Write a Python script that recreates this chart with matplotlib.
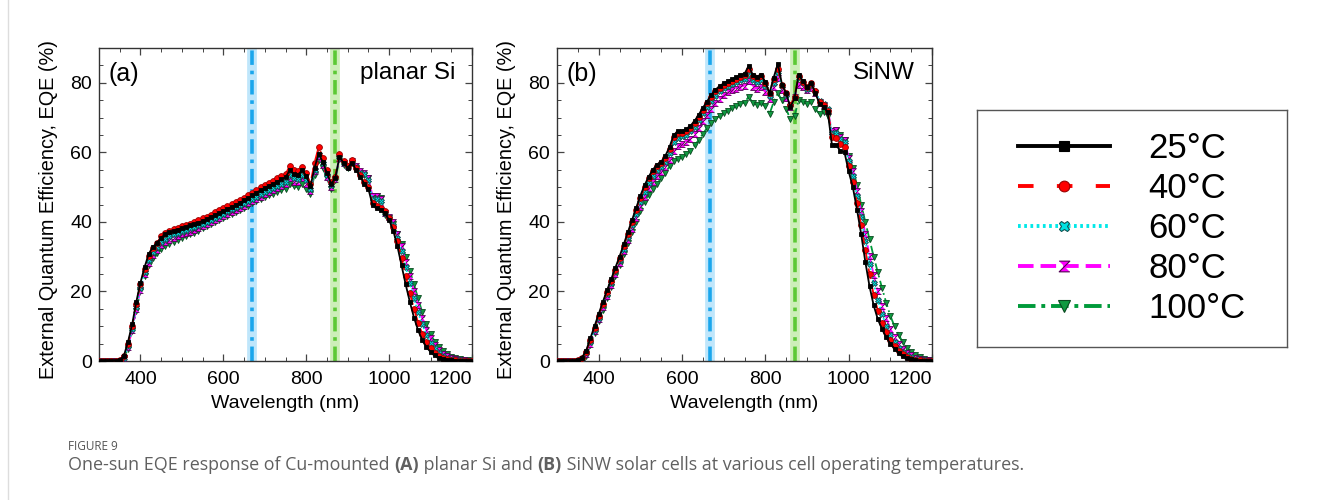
import numpy as np
import matplotlib
matplotlib.use("Agg")
import matplotlib.pyplot as plt
from matplotlib.lines import Line2D
from matplotlib.ticker import MultipleLocator

plt.rcParams['font.family'] = ['Liberation Sans', 'DejaVu Sans']

# wavelength grid (nm), one EQE reading every 10 nm
wl = np.arange(300, 1201, 10)

# (a) planar Si, EQE in %
a25 = [0, 0, 0, 0, 0, 0.3, 1.5, 5.5, 10.5, 17.0,
       22.5, 27.0, 30.8, 32.8, 34.0, 35.5, 36.4, 37.0, 37.4, 37.8,
       38.2, 38.6, 39.0, 39.4, 39.8, 40.3, 40.8, 41.4, 42.0, 42.6,
       43.1, 43.7, 44.3, 44.9, 45.5, 46.2, 46.9, 47.6, 48.4, 49.1,
       49.8, 50.4, 51.0, 51.6, 52.2, 52.8, 54.8, 53.8, 53.6, 54.8,
       53.3, 50.2, 55.5, 59.6, 57.2, 54.0, 51.0, 52.5, 58.6, 57.0,
       55.6, 57.0, 55.0, 53.0, 51.0, 49.5, 44.8, 44.0, 43.5, 42.5,
       40.5, 37.5, 33.0, 27.5, 22.0, 17.0, 12.5, 8.8, 6.0, 4.0,
       2.6, 1.6, 1.0, 0.6, 0.35, 0.2, 0.1, 0.05, 0, 0,
       0]
a40 = [0, 0, 0, 0, 0, 0.2, 1.3, 5.0, 10.0, 16.5,
       22.0, 26.5, 30.3, 32.5, 34.0, 35.8, 36.9, 37.5, 37.9, 38.3,
       38.7, 39.1, 39.5, 40.0, 40.5, 41.0, 41.5, 42.1, 42.7, 43.3,
       43.9, 44.5, 45.1, 45.7, 46.3, 47.0, 47.7, 48.4, 49.2, 49.9,
       50.6, 51.3, 51.9, 52.5, 53.1, 53.7, 56.0, 54.8, 54.6, 55.9,
       54.2, 51.0, 57.0, 61.5, 58.5, 55.0, 51.5, 53.0, 59.5, 57.5,
       56.0, 57.8, 55.5, 53.5, 51.5, 50.0, 45.5, 44.5, 44.0, 43.0,
       41.0, 38.5, 34.5, 29.5, 24.5, 19.5, 15.0, 11.0, 7.8, 5.4,
       3.7, 2.4, 1.5, 0.9, 0.5, 0.3, 0.15, 0.07, 0.02, 0,
       0]
a60 = [0, 0, 0, 0, 0, 0.1, 1.0, 4.3, 9.3, 15.5,
       21.0, 25.5, 29.0, 31.3, 32.8, 34.2, 35.2, 35.9, 36.4, 36.9,
       37.3, 37.7, 38.1, 38.5, 39.0, 39.5, 40.0, 40.6, 41.2, 41.8,
       42.4, 43.0, 43.6, 44.2, 44.8, 45.4, 46.0, 46.6, 47.3, 48.0,
       48.6, 49.2, 49.8, 50.4, 51.0, 51.6, 53.5, 52.6, 52.4, 53.5,
       52.0, 49.5, 55.0, 59.5, 57.0, 53.5, 50.5, 52.5, 58.8, 57.0,
       55.8, 57.5, 55.8, 54.0, 53.8, 52.0, 46.5, 46.5, 46.0, 42.5,
       41.0, 39.0, 35.5, 31.5, 27.0, 22.5, 18.0, 14.0, 10.5, 7.5,
       5.3, 3.6, 2.4, 1.5, 0.9, 0.5, 0.3, 0.15, 0.07, 0.02,
       0]
a80 = [0, 0, 0, 0, 0, 0.1, 0.9, 4.0, 9.0, 15.0,
       20.5, 25.0, 28.3, 30.5, 32.0, 33.3, 34.2, 34.9, 35.4, 35.9,
       36.4, 36.8, 37.2, 37.7, 38.2, 38.7, 39.3, 39.9, 40.5, 41.1,
       41.7, 42.3, 42.9, 43.5, 44.1, 44.7, 45.3, 45.9, 46.6, 47.3,
       47.9, 48.5, 49.1, 49.7, 50.3, 50.9, 52.5, 51.6, 51.4, 52.5,
       51.0, 49.0, 54.5, 59.0, 56.5, 53.0, 50.0, 52.3, 58.5, 57.0,
       56.0, 57.5, 56.0, 54.5, 54.0, 52.5, 47.5, 47.5, 46.5, 42.5,
       41.5, 40.0, 36.5, 33.0, 28.5, 24.5, 20.0, 16.0, 12.3, 9.0,
       6.5, 4.6, 3.2, 2.1, 1.4, 0.9, 0.5, 0.3, 0.15, 0.06,
       0]
a100 = [0, 0, 0, 0, 0, 0.1, 0.8, 3.5, 8.5, 14.5,
        20.0, 24.5, 27.5, 29.5, 31.0, 32.2, 33.0, 33.7, 34.3, 34.9,
        35.4, 35.9, 36.4, 36.9, 37.5, 38.1, 38.7, 39.3, 39.9, 40.5,
        41.1, 41.7, 42.3, 42.9, 43.5, 44.1, 44.7, 45.3, 45.9, 46.5,
        47.1, 47.6, 48.1, 48.6, 49.1, 49.6, 51.0, 50.2, 50.0, 51.0,
        49.5, 48.0, 53.5, 57.8, 55.5, 52.5, 49.5, 52.0, 58.0, 56.5,
        55.5, 57.0, 55.5, 54.0, 53.5, 52.5, 47.5, 47.5, 47.0, 42.0,
        41.0, 39.5, 36.5, 33.5, 30.0, 26.0, 22.0, 18.0, 14.0, 10.5,
        7.8, 5.6, 4.0, 2.8, 1.9, 1.2, 0.8, 0.5, 0.3, 0.15,
        0.05]

# (b) SiNW, EQE in %
b25 = [0, 0, 0, 0, 0, 0.3, 1.0, 3.0, 6.5, 10.0,
       13.5, 17.0, 20.3, 23.5, 26.8, 30.0, 33.5, 37.0, 40.5, 44.0,
       47.5, 50.5, 53.0, 55.0, 56.5, 57.3, 59.0, 61.5, 65.0, 66.0,
       66.2, 66.6, 67.6, 69.0, 70.8, 72.8, 74.6, 76.5, 78.0, 79.0,
       79.8, 80.5, 81.0, 81.6, 82.2, 82.6, 84.8, 82.3, 81.8, 82.3,
       80.2, 77.0, 81.5, 85.5, 79.5, 77.0, 73.0, 75.5, 82.3, 80.5,
       78.8, 80.0, 77.0, 74.0, 73.0, 71.5, 62.0, 62.0, 60.5, 60.0,
       54.5, 50.0, 43.5, 36.5, 28.5, 21.5, 16.0, 12.0, 9.2, 6.8,
       5.0, 3.5, 2.3, 1.4, 0.8, 0.45, 0.2, 0.08, 0.02, 0,
       0]
b40 = [0, 0, 0, 0, 0, 0.2, 0.8, 2.7, 6.0, 9.5,
       13.0, 16.5, 19.8, 23.0, 26.3, 29.5, 33.0, 36.5, 40.0, 43.5,
       47.0, 50.0, 52.5, 54.5, 56.0, 56.8, 58.5, 61.0, 64.5, 65.5,
       65.7, 66.1, 67.1, 68.5, 70.3, 72.3, 74.1, 76.0, 77.5, 78.5,
       79.3, 80.0, 80.5, 81.1, 81.7, 82.1, 84.0, 82.0, 81.5, 82.0,
       80.0, 77.0, 81.0, 84.0, 79.5, 77.0, 73.5, 76.0, 82.0, 80.3,
       78.8, 79.8, 77.5, 74.5, 73.5, 72.0, 64.5, 64.0, 62.5, 61.5,
       56.0, 51.5, 45.5, 39.0, 32.0, 25.0, 19.0, 14.5, 11.0, 8.2,
       6.0, 4.3, 2.9, 1.9, 1.2, 0.7, 0.4, 0.2, 0.08, 0.02,
       0]
b60 = [0, 0, 0, 0, 0, 0.1, 0.6, 2.3, 5.5, 9.0,
       12.5, 16.0, 19.3, 22.5, 25.8, 29.0, 32.3, 35.7, 39.0, 42.3,
       45.7, 48.7, 51.2, 53.2, 54.8, 55.8, 57.3, 59.8, 63.0, 64.2,
       64.6, 65.0, 66.0, 67.4, 69.2, 71.2, 73.0, 74.8, 76.3, 77.5,
       78.5, 79.2, 79.7, 80.2, 80.7, 81.0, 82.3, 80.8, 80.3, 80.8,
       79.0, 76.3, 80.0, 83.0, 79.0, 76.5, 73.5, 76.0, 81.3, 79.8,
       78.3, 79.3, 77.5, 74.8, 74.0, 72.5, 65.5, 65.5, 63.8, 63.0,
       57.5, 53.3, 47.5, 41.3, 34.5, 28.0, 22.3, 17.5, 13.5, 10.2,
       7.5, 5.4, 3.8, 2.6, 1.7, 1.1, 0.65, 0.38, 0.2, 0.08,
       0.02]
b80 = [0, 0, 0, 0, 0, 0.1, 0.5, 2.0, 5.0, 8.5,
       12.0, 15.4, 18.7, 21.9, 25.1, 28.3, 31.5, 34.8, 38.0, 41.2,
       44.4, 47.3, 49.7, 51.6, 53.2, 54.3, 55.7, 57.8, 60.5, 61.8,
       62.3, 62.9, 63.9, 65.3, 67.1, 69.0, 70.8, 72.6, 74.1, 75.4,
       76.5, 77.3, 77.8, 78.3, 78.8, 79.2, 80.5, 78.8, 78.3, 78.8,
       77.3, 75.3, 78.8, 81.5, 78.0, 75.5, 73.0, 75.8, 79.5, 78.8,
       77.8, 78.5, 77.0, 74.5, 73.5, 72.0, 66.0, 66.5, 64.5, 63.5,
       58.5, 54.5, 49.0, 43.0, 36.5, 30.3, 24.8, 20.0, 15.8, 12.3,
       9.3, 6.9, 5.0, 3.5, 2.4, 1.6, 1.0, 0.6, 0.35, 0.15,
       0.05]
b100 = [0, 0, 0, 0, 0, 0.1, 0.4, 1.5, 4.5, 8.0,
        11.5, 14.8, 18.0, 21.2, 24.3, 27.5, 30.7, 34.0, 37.0, 40.0,
        43.0, 45.8, 47.8, 49.5, 51.0, 52.5, 54.0, 56.0, 57.5, 58.0,
        58.6, 59.5, 60.5, 62.0, 63.5, 65.3, 67.0, 68.4, 69.5, 70.5,
        71.3, 72.0, 72.7, 73.3, 73.8, 74.3, 76.0, 74.2, 73.7, 74.2,
        73.2, 71.0, 74.5, 77.0, 75.0, 72.5, 69.5, 70.5, 75.0, 74.5,
        74.0, 74.5, 72.5, 71.0, 71.5, 70.5, 66.0, 66.5, 65.0, 63.5,
        59.0, 55.5, 50.5, 45.0, 40.0, 35.0, 30.0, 25.5, 21.0, 16.8,
        13.0, 10.0, 7.5, 5.4, 3.8, 2.6, 1.8, 1.1, 0.6, 0.3,
        0.15]

temps = ['25°C', '40°C', '60°C', '80°C', '100°C']
panel_a = [a25, a40, a60, a80, a100]
panel_b = [b25, b40, b60, b80, b100]

# wavelengths marked by the vertical guide lines (nm)
guide_blue = 668
guide_green = 870

# hourglass marker for the 80 C trace
hourglass = [(-1, 1), (1, 1), (-1, -1), (1, -1)]

styles = [
    dict(color='black', ls='-', marker='s', mfc='black', mec='black', ms=3.2),
    dict(color='#ff0000', ls=(0, (6, 4)), marker='o', mfc='#ff0000', mec='#990000', ms=4.2),
    dict(color='#00e8e8', ls=(0, (1, 1.2)), marker='X', mfc='#00e0e0', mec='#105050', ms=4.2),
    dict(color='#ff00ff', ls=(0, (4, 2)), marker=hourglass, mfc='#ff00ff', mec='#500050', ms=4.2),
    dict(color='#009a3a', ls=(0, (5, 2, 1, 2)), marker='v', mfc='#109a40', mec='#0a4a20', ms=4.6),
]

fig = plt.figure(figsize=(13.3, 5), dpi=100)
fig.patch.set_facecolor('white')

ax_a = fig.add_axes([99 / 1330, 139 / 500, 373 / 1330, 313 / 500])
ax_b = fig.add_axes([557 / 1330, 139 / 500, 375 / 1330, 313 / 500])


def draw_panel(ax, series, tag, name):
    # guide lines: pale band under a dash-dot stroke
    ax.axvline(guide_blue, color='#bfe6fb', lw=7, zorder=1)
    ax.axvline(guide_blue, color='#1aa6ec', lw=2.6, ls=(0, (4, 1.6, 1, 1.6)), zorder=1.5)
    ax.axvline(guide_green, color='#cdeeb9', lw=7, zorder=1)
    ax.axvline(guide_green, color='#5cc935', lw=2.6, ls=(0, (4, 1.6, 1, 1.6)), zorder=1.5)

    # hottest trace first so the 25 C trace sits on top
    for vals, st in reversed(list(zip(series, styles))):
        ax.plot(wl, vals, color=st['color'], ls=st['ls'], lw=1.3,
                marker=st['marker'], ms=st['ms'], mfc=st['mfc'], mec=st['mec'],
                mew=0.6, zorder=3)

    ax.set_xlim(300, 1200)
    ax.set_ylim(0, 90)
    ax.set_xticks([400, 600, 800, 1000, 1200])
    ax.xaxis.set_minor_locator(MultipleLocator(50))
    ax.yaxis.set_major_locator(MultipleLocator(20))
    ax.yaxis.set_minor_locator(MultipleLocator(5))
    ax.tick_params(which='both', direction='in', top=True, right=True,
                   color='#444444', labelsize=14)
    ax.tick_params(axis='x', pad=7)
    ax.tick_params(axis='y', pad=5)
    ax.tick_params(which='major', length=5, width=0.9)
    ax.tick_params(which='minor', length=3, width=0.7)
    # last x label sits inside the frame
    ax.xaxis.get_major_ticks()[-1].label1.set_horizontalalignment('right')
    for sp in ax.spines.values():
        sp.set_color('#333333')
        sp.set_linewidth(1.0)
    ax.set_xlabel('Wavelength (nm)', fontsize=14, labelpad=5)
    ax.set_ylabel('External Quantum Efficiency, EQE (%)', fontsize=14.3)
    ax.yaxis.set_label_coords(-0.11, 0.483)

    ax.text(0.025, 0.955, tag, transform=ax.transAxes, fontsize=18,
            ha='left', va='top')
    ax.text(0.955, 0.955, name, transform=ax.transAxes, fontsize=17.5,
            ha='right', va='top')


draw_panel(ax_a, panel_a, '(a)', 'planar Si')
draw_panel(ax_b, panel_b, '(b)', 'SiNW')

# legend in its own boxed area to the right
ax_leg = fig.add_axes([977 / 1330, 153 / 500, 310 / 1330, 237 / 500])
ax_leg.set_xticks([])
ax_leg.set_yticks([])
for sp in ax_leg.spines.values():
    sp.set_color('#555555')
    sp.set_linewidth(1.0)

leg_dashes = ['-', (0, (4, 6)), (0, (0.7, 0.9)), (0, (4, 1.8)), (0, (4.5, 1.5, 1, 1.5))]
handles = []
for st, dsh in zip(styles, leg_dashes):
    handles.append(Line2D([], [], color=st['color'], ls=dsh, lw=2.8,
                          marker=st['marker'], ms=st['ms'] + 3.5, mfc=st['mfc'],
                          mec=st['mec'], mew=0.8))
ax_leg.legend(handles, temps, loc='center', frameon=False, fontsize=25,
              handlelength=2.65, handletextpad=1.1, labelspacing=0.2,
              numpoints=1, borderaxespad=0)

# caption under the figure
fig.add_artist(Line2D([8 / 1330, 8 / 1330], [0, 1], color='#dddddd', lw=1))
cap_font = ['Open Sans', 'DejaVu Sans']
fig.text(68 / 1330, 1 - 450 / 500, 'FIGURE 9', fontsize=8.5, color='#555555',
         family=cap_font, va='baseline')

parts = [('One-sun EQE response of Cu-mounted ', 'normal'), ('(A)', 'bold'),
         (' planar Si and ', 'normal'), ('(B)', 'bold'),
         (' SiNW solar cells at various cell operating temperatures.', 'normal')]
renderer = fig.canvas.get_renderer()
x = 68 / 1330
for txt, wt in parts:
    t = fig.text(x, 1 - 470 / 500, txt, fontsize=12.9, color='#606060',
                 family=cap_font, weight=wt, va='baseline')
    bb = t.get_window_extent(renderer=renderer)
    x += bb.width / fig.bbox.width

fig.savefig('out.png', dpi=100, facecolor='white')
